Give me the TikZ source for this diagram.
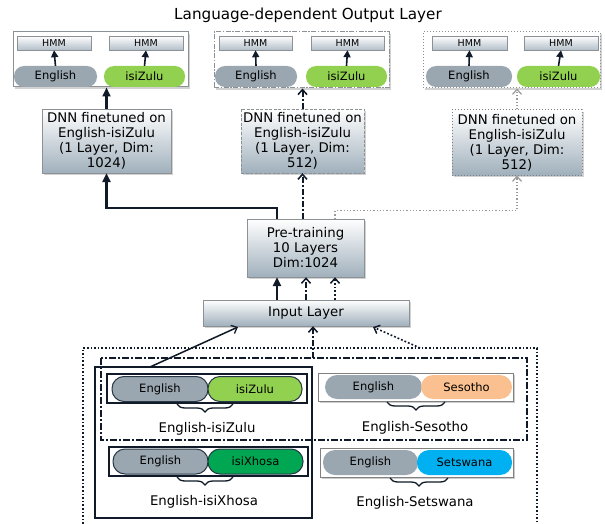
\documentclass[tikz,border=0pt]{standalone}
\usepackage{fontspec}
\setmainfont{DejaVu Sans}
\usetikzlibrary{shadows,arrows.meta,decorations.pathreplacing}
\definecolor{boxborder}{RGB}{140,145,150}
\definecolor{boxbot}{RGB}{160,176,188}
\definecolor{engc}{RGB}{155,167,176}
\definecolor{zuluc}{RGB}{146,208,80}
\definecolor{xhosac}{RGB}{0,166,81}
\definecolor{sesoc}{RGB}{250,192,144}
\definecolor{tswac}{RGB}{0,176,240}
\definecolor{navy}{RGB}{16,26,40}
\definecolor{pillline}{RGB}{40,55,70}
\begin{document}
\begin{tikzpicture}[x=1pt,y=-1pt,
  box/.style={draw=boxborder, top color=white, bottom color=boxbot, drop shadow={opacity=0.35,shadow xshift=2pt,shadow yshift=-2pt}, align=center, inner sep=0pt, font=\fontsize{13.3}{15}\selectfont},
  outbox/.style={draw=boxborder, fill=white, line width=1pt, drop shadow={opacity=0.35,shadow xshift=2pt,shadow yshift=-2pt}, inner sep=0pt},
  hmm/.style={draw=boxborder, top color=white, bottom color=boxbot!80, minimum height=14pt, inner sep=0pt, font=\fontsize{9.5}{10}\selectfont},
  pill/.style={rounded corners=10pt, minimum height=21pt, inner sep=0pt, font=\fontsize{11.5}{12}\selectfont},
  bpill/.style={pill, rounded corners=12pt, minimum height=25pt},
  pframe/.style={draw=navy, line width=1.2pt, fill=white, inner sep=0pt},
  pframeb/.style={draw=gray, line width=1pt, fill=white, inner sep=0pt, drop shadow={opacity=0.4,shadow xshift=2pt,shadow yshift=-2pt}},
  lbl/.style={font=\fontsize{13.3}{15}\selectfont, inner sep=0pt},
  smallarrow/.style={draw=navy, line width=1.6pt, -{Triangle[length=7pt,width=7pt]}},
  thickarrow/.style={draw=navy, line width=2.2pt, -{Triangle[length=9pt,width=8pt]}},
  dasharrow/.style={draw=navy, line width=2pt, dash pattern=on 6pt off 2pt on 2pt off 2pt, -{Straight Barb[length=5pt,width=9pt,line width=1.5pt]}},
  dotarrowdark/.style={draw=navy, line width=1.8pt, dotted, -{Straight Barb[length=5pt,width=9pt,line width=1.5pt]}},
  dotarrowgray/.style={draw=gray!80, line width=1.3pt, dotted, -{Straight Barb[length=5pt,width=9pt,line width=1.2pt]}},
  brc/.style={decorate, decoration={brace, mirror, amplitude=8pt}, line width=1.3pt, draw=navy}
]
\useasboundingbox (0,0) rectangle (605,524);
\fill[white] (0,0) rectangle (605,524);

\node[font=\fontsize{15.2}{17}\selectfont, inner sep=0pt] (title) at (308,15) {Language-dependent Output Layer};

% output boxes
\node[outbox, minimum width=175pt, minimum height=55pt] (ob1) at (100.5,59.5) {};
\node[outbox, dash pattern=on 5pt off 1.5pt on 1.5pt off 1.5pt, minimum width=175pt, minimum height=56pt] (ob2) at (301.5,60) {};
\node[outbox, dotted, minimum width=177pt, minimum height=56pt] (ob3) at (511.5,60) {};

\node[hmm, minimum width=74pt] (h11) at (54,43) {HMM};
\node[hmm, minimum width=74pt] (h12) at (146,43) {HMM};
\node[pill, fill=engc, minimum width=83pt] (e1) at (55.5,76.5) {English};
\node[pill, fill=zuluc, minimum width=81pt] (z1) at (144.5,76.5) {isiZulu};
\draw[smallarrow] (e1.north) -- (h11.south);
\draw[smallarrow] (z1.north) -- (h12.south);

\node[hmm, minimum width=73pt] (h21) at (255.5,43) {HMM};
\node[hmm, minimum width=73pt] (h22) at (347.5,43) {HMM};
\node[pill, fill=engc, minimum width=82pt] (e2) at (256,76.5) {English};
\node[pill, fill=zuluc, minimum width=81pt] (z2) at (346.5,76.5) {isiZulu};
\draw[smallarrow] (e2.north) -- (h21.south);
\draw[smallarrow] (z2.north) -- (h22.south);

\node[hmm, minimum width=75pt] (h31) at (469.5,43) {HMM};
\node[hmm, minimum width=74pt] (h32) at (561,43) {HMM};
\node[pill, fill=engc, minimum width=86pt] (e3) at (469,76.5) {English};
\node[pill, fill=zuluc, minimum width=83pt] (z3) at (558.5,76.5) {isiZulu};
\draw[smallarrow] (e3.north) -- (h31.south);
\draw[smallarrow] (z3.north) -- (h32.south);

% DNN boxes
\node[box, minimum width=129pt, minimum height=64pt] (d1) at (106.5,141) {DNN finetuned on\\English-isiZulu\\(1 Layer, Dim:\\1024)};
\node[box, dash pattern=on 3pt off 1.5pt, minimum width=123pt, minimum height=64pt] (d2) at (302.5,141) {DNN finetuned on\\English-isiZulu\\(1 Layer, Dim:\\512)};
\node[box, draw=gray, dotted, line width=1pt, minimum width=130pt, minimum height=65pt] (d3) at (517,142.5) {DNN finetuned on\\English-isiZulu\\(1 Layer, Dim:\\512)};

\draw[thickarrow] (d1.north) -- (ob1.south -| d1.north);
\draw[dasharrow] (d2.north) -- (ob2.south -| d2.north);
\draw[dotarrowgray] (d3.north) -- (ob3.south -| d3.north);

% pretraining and input
\node[box, minimum width=117pt, minimum height=58pt] (pre) at (305.5,248) {Pre-training\\10 Layers\\Dim:1024};
\node[box, minimum width=206pt, minimum height=26pt] (inp) at (306,313) {Input Layer};

\coordinate (s1) at (277,0);
\coordinate (s3) at (335,0);
\draw[thickarrow] (pre.north -| s1) -- ++(0,-11) -| (d1.south);
\draw[dasharrow] (pre.north -| d2.south) -- (d2.south);
\draw[dotarrowgray] (pre.north -| s3) -- ++(0,-8) -| (d3.south);

\draw[thickarrow] (inp.north -| s1) -- (pre.south -| s1);
\coordinate (s2) at (306,0);
\draw[dasharrow] (inp.north -| s2) -- (pre.south -| s2);
\draw[dotarrowdark] (inp.north -| s3) -- (pre.south -| s3);

% bottom groups
\draw[draw=navy, line width=1.6pt, dotted] (83,524) -- (83,348) -- (537,348) -- (537,524);
\draw[draw=navy, line width=1.4pt, dash pattern=on 7pt off 2pt on 2pt off 2pt] (101,358) rectangle (527,440);
\draw[draw=navy, line width=1.5pt] (95,367) rectangle (312,518);

\coordinate (a1) at (150,367);
\coordinate (b1) at (238,327);
\coordinate (a2) at (313,358);
\coordinate (a3) at (420,348);
\coordinate (b3) at (373,327);
\draw[draw=navy, line width=1.5pt, -{Straight Barb[length=5pt,width=9pt,line width=1.3pt]}] (a1) -- (b1);
\draw[dasharrow, line width=1.6pt] (a2) -- (inp.south -| a2);
\draw[dotarrowdark, line width=1.6pt] (a3) -- (b3);

% pair 1
\node[pframe, minimum width=200pt, minimum height=29pt] (f1) at (207,388.5) {};
\node[bpill, draw=pillline, line width=1pt, fill=engc, minimum width=96pt] (pe1) at (160,389) {English};
\node[bpill, draw=pillline, line width=1pt, fill=zuluc, minimum width=94pt] (pz1) at (255,389) {isiZulu};
\draw[brc] (177,404) -- (233,404);
\node[lbl] (l1) at (207,429) {English-isiZulu};

% pair 2
\node[pframe, minimum width=199pt, minimum height=29pt] (f2) at (208.5,461.5) {};
\node[bpill, draw=pillline, line width=1pt, fill=engc, minimum width=95pt] (pe2) at (160.5,461.5) {English};
\node[bpill, draw=pillline, line width=1pt, fill=xhosac, minimum width=95pt] (px2) at (255.5,461.5) {isiXhosa};
\draw[brc] (177,477) -- (233,477);
\node[lbl] (l2) at (204,502) {English-isiXhosa};

% pair 3
\node[pframeb, minimum width=195pt, minimum height=28pt] (f3) at (415.5,387) {};
\node[bpill, minimum height=24pt, fill=engc, minimum width=97pt] (pe3) at (373.5,387) {English};
\node[bpill, minimum height=24pt, fill=sesoc, minimum width=91pt] (ps3) at (466.5,387) {Sesotho};
\draw[brc] (387,402) -- (445,402);
\node[lbl] (l3) at (415,428) {English-Sesotho};

% pair 4
\node[pframeb, minimum width=193pt, minimum height=29pt] (f4) at (416.5,462.5) {};
\node[bpill, fill=engc, minimum width=95pt] (pe4) at (370.5,462.5) {English};
\node[bpill, fill=tswac, minimum width=95pt] (pt4) at (464.5,462.5) {Setswana};
\draw[brc] (390,478) -- (448,478);
\node[lbl] (l4) at (415,503) {English-Setswana};
\end{tikzpicture}
\end{document}
